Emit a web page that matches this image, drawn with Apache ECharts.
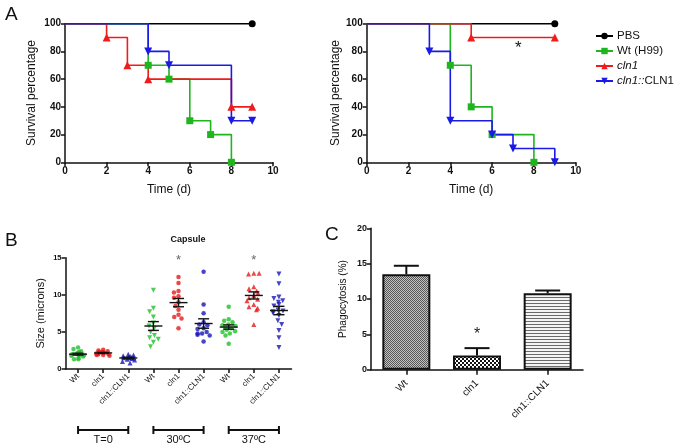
<!DOCTYPE html>
<html><head><meta charset="utf-8">
<script src="https://cdn.jsdelivr.net/npm/echarts@6/dist/echarts.min.js"></script>
<style>html,body{margin:0;padding:0;background:#fff}#c{width:675px;height:448px}</style>
</head><body><div id="c"></div>
<script>
const FONT = '"Liberation Sans", Arial, Helvetica, sans-serif';

// ---------- Panel A data (survival, %) ----------
const survNames = ['PBS', 'Wt (H99)', 'cln1', 'cln1::CLN1'];
const timeTicks = [0, 2, 4, 6, 8, 10];
const aLeftPbsT = [0, 9];            const aLeftPbsV = [100, 100];
const aLeftWtT = [0, 4, 5, 6, 7, 8]; const aLeftWtV = [100, 70, 60, 30, 20, 0];
const aLeftClnT = [0, 2, 3, 4, 8, 9]; const aLeftClnV = [100, 90, 70, 60, 40, 40];
const aLeftCompT = [0, 4, 5, 8, 9];  const aLeftCompV = [100, 80, 70, 30, 30];
const aRightPbsT = [0, 9];           const aRightPbsV = [100, 100];
const aRightWtT = [0, 4, 5, 6, 8];   const aRightWtV = [100, 70, 40, 20, 0];
const aRightClnT = [0, 5, 9];        const aRightClnV = [100, 90, 90];
const aRightCompT = [0, 3, 4, 6, 7, 9]; const aRightCompV = [100, 80, 30, 20, 10, 0];
const aStar = [7.25, 82];

// ---------- Panel B data (capsule size, microns) ----------
const capCategories = ['Wt', 'cln1', 'cln1::CLN1', 'Wt', 'cln1', 'cln1::CLN1', 'Wt', 'cln1', 'cln1::CLN1'];
const tempGroups = ['T=0', '30ºC', '37ºC'];
const capT0Wt = [2.9, 2.7, 2.4, 2.3, 2.2, 2.1, 2.0, 1.9, 1.9, 1.8, 1.7, 1.5, 1.3, 1.3];
const capT0Cln = [2.6, 2.5, 2.4, 2.3, 2.3, 2.2, 2.2, 2.1, 2.1, 2.0, 2.0, 1.9, 1.9, 1.8];
const capT0Comp = [2.0, 1.9, 1.8, 1.7, 1.6, 1.6, 1.5, 1.5, 1.4, 1.3, 1.2, 1.0, 0.8];
const cap30Wt = [10.6, 8.2, 7.7, 7.0, 6.2, 5.8, 5.5, 5.0, 4.5, 4.2, 4.0, 3.6, 3.0];
const cap30Cln = [12.4, 11.6, 10.5, 10.3, 9.8, 9.6, 9.0, 8.5, 8.0, 7.3, 7.0, 6.8, 5.5];
const cap30Comp = [13.1, 8.7, 7.5, 6.3, 6.0, 5.9, 5.5, 5.4, 5.0, 4.8, 4.8, 4.6, 4.5, 3.7];
const cap37Wt = [8.4, 6.7, 6.5, 6.3, 6.0, 5.9, 5.8, 5.6, 5.5, 5.3, 5.1, 5.0, 4.8, 4.5, 3.4];
const cap37Cln = [12.9, 12.9, 12.8, 11.1, 10.8, 10.5, 10.2, 9.9, 9.6, 9.4, 9.2, 8.7, 8.4, 8.2, 8.0, 6.0];
const cap37Comp = [12.8, 11.5, 9.7, 9.5, 9.2, 9.0, 8.7, 8.5, 8.0, 7.8, 7.7, 7.5, 7.2, 6.5, 6.0, 5.2, 4.2, 2.9];
const capStars = [[4, 14.6], [7, 14.6]];

// ---------- Panel C data (phagocytosis, %) ----------
const phagoCats = ['Wt', 'cln1', 'cln1::CLN1'];
const phagoMean = [13.5, 2.0, 10.8];
const phagoSem = [1.2, 1.05, 0.4];
const phagoStar = [1, 5.0];

// ---------- styles ----------
const cGreen = '#1fb51f', cRed = '#f01c1c', cBlue = '#1a1ae6';
const bGreen = '#22bf2c', bRed = '#e31b1b', bBlue = '#1717b8';

function pat(w, h, draw) {
  const c = document.createElement('canvas'); c.width = w; c.height = h;
  draw(c.getContext('2d')); return c;
}
const patWt = pat(2, 2, g => { g.fillStyle = '#c4c4c4'; g.fillRect(0, 0, 2, 2); g.fillStyle = '#555'; g.fillRect(0, 0, 1, 1); g.fillRect(1, 1, 1, 1); });
const patCln = pat(4, 4, g => { g.fillStyle = '#fff'; g.fillRect(0, 0, 4, 4); g.fillStyle = '#111'; g.fillRect(0, 0, 2, 2); g.fillRect(2, 2, 2, 2); });
const patComp = pat(4, 3, g => { g.fillStyle = '#f4f4f4'; g.fillRect(0, 0, 4, 3); g.fillStyle = '#6a6a6a'; g.fillRect(0, 0, 4, 1); });

function meanSem(a) {
  const n = a.length, m = a.reduce((s, v) => s + v, 0) / n;
  const sd = Math.sqrt(a.reduce((s, v) => s + (v - m) * (v - m), 0) / (n - 1));
  return [m, sd / Math.sqrt(n)];
}

const axLine = { lineStyle: { color: '#111', width: 1.5 } };
const axTick = { show: true, length: 4, lineStyle: { color: '#111', width: 1.5 } };
const tickLbl = (fs) => ({ color: '#111', fontFamily: FONT, fontWeight: 'bold', fontSize: fs, margin: 4 });

function survSeries(name, T, V, xi, color, symbol, rot, size) {
  return {
    type: 'line', name, xAxisIndex: xi, yAxisIndex: xi, step: 'end',
    symbol, symbolRotate: rot, symbolSize: size, clip: false,
    lineStyle: { color, width: 1.6 }, itemStyle: { color },
    data: T.map((t, i) => i === 0 ? { value: [t, V[i]], symbol: 'none' } : [t, V[i]]),
    z: 3
  };
}

const series = [];
[[aLeftPbsT, aLeftPbsV, aLeftWtT, aLeftWtV, aLeftClnT, aLeftClnV, aLeftCompT, aLeftCompV, 0],
 [aRightPbsT, aRightPbsV, aRightWtT, aRightWtV, aRightClnT, aRightClnV, aRightCompT, aRightCompV, 1]]
  .forEach(p => {
    const xi = p[8];
    series.push(survSeries(survNames[0], p[0], p[1], xi, '#000', 'circle', 0, 7));
    series.push(survSeries(survNames[1], p[2], p[3], xi, cGreen, 'rect', 0, 7));
    series.push(survSeries(survNames[2], p[4], p[5], xi, cRed, 'triangle', 0, 8));
    series.push(survSeries(survNames[3], p[6], p[7], xi, cBlue, 'triangle', 180, 8));
  });
// asterisk in A right
series.push({
  type: 'custom', xAxisIndex: 1, yAxisIndex: 1, data: [aStar], silent: true,
  renderItem: (params, api) => {
    const p = api.coord([api.value(0), api.value(1)]);
    return { type: 'text', style: { text: '*', x: p[0], y: p[1], align: 'center', verticalAlign: 'middle', textAlign: 'center', textVerticalAlign: 'middle', fontSize: 17, fontFamily: FONT, fill: '#111' } };
  }
});

// Panel B scatter
const capGroups = [capT0Wt, capT0Cln, capT0Comp, cap30Wt, cap30Cln, cap30Comp, cap37Wt, cap37Cln, cap37Comp];
const capColors = [bGreen, bRed, bBlue, bGreen, bRed, bBlue, bGreen, bRed, bBlue];
const capSymbols = ['circle', 'circle', 'triangle', 'triangle', 'circle', 'circle', 'circle', 'triangle', 'triangle'];
const capRot = [0, 0, 0, 180, 0, 0, 0, 0, 180];
capGroups.forEach((g, i) => {
  series.push({
    type: 'scatter', xAxisIndex: 2, yAxisIndex: 2,
    symbol: capSymbols[i], symbolRotate: capRot[i], symbolSize: capSymbols[i] === 'circle' ? 4.5 : 5,
    itemStyle: { color: capColors[i] }, data: g.map(v => [i, v]), z: 2
  });
});
series.push({
  type: 'custom', xAxisIndex: 2, yAxisIndex: 2, z: 5, silent: true,
  data: capGroups.map((g, i) => { const [m, s] = meanSem(g); return [i, m, m - s, m + s]; }),
  renderItem: (params, api) => {
    const x = api.value(0);
    const pm = api.coord([x, api.value(1)]), pl = api.coord([x, api.value(2)]), ph = api.coord([x, api.value(3)]);
    const st = { stroke: '#111', lineWidth: 1.4 };
    return { type: 'group', children: [
      { type: 'line', shape: { x1: pm[0] - 9, y1: pm[1], x2: pm[0] + 9, y2: pm[1] }, style: st },
      { type: 'line', shape: { x1: pl[0], y1: pl[1], x2: ph[0], y2: ph[1] }, style: st },
      { type: 'line', shape: { x1: pl[0] - 5.5, y1: pl[1], x2: pl[0] + 5.5, y2: pl[1] }, style: st },
      { type: 'line', shape: { x1: ph[0] - 5.5, y1: ph[1], x2: ph[0] + 5.5, y2: ph[1] }, style: st }
    ] };
  }
});
series.push({
  type: 'custom', xAxisIndex: 2, yAxisIndex: 2, data: capStars, silent: true,
  renderItem: (params, api) => {
    const p = api.coord([api.value(0), api.value(1)]);
    return { type: 'text', style: { text: '*', x: p[0], y: p[1], align: 'center', verticalAlign: 'middle', textAlign: 'center', textVerticalAlign: 'middle', fontSize: 13, fontFamily: FONT, fill: '#666' } };
  }
});
// brackets under B
series.push({
  type: 'custom', xAxisIndex: 4, yAxisIndex: 4, silent: true,
  data: tempGroups.map((t, i) => [i * 3, i * 3 + 2, 0.5]),
  renderItem: (params, api) => {
    const a = api.coord([api.value(0), api.value(2)]), b = api.coord([api.value(1), api.value(2)]);
    const st = { stroke: '#111', lineWidth: 2 };
    const label = tempGroups[params.dataIndex];
    return { type: 'group', children: [
      { type: 'line', shape: { x1: a[0], y1: a[1], x2: b[0], y2: b[1] }, style: st },
      { type: 'line', shape: { x1: a[0], y1: a[1] - 4, x2: a[0], y2: a[1] + 4 }, style: st },
      { type: 'line', shape: { x1: b[0], y1: b[1] - 4, x2: b[0], y2: b[1] + 4 }, style: st },
      { type: 'text', style: { text: label, x: (a[0] + b[0]) / 2, y: a[1] + 4, align: 'center', verticalAlign: 'top', textAlign: 'center', textVerticalAlign: 'top', fontSize: 11, fontFamily: FONT, fill: '#111' } }
    ] };
  }
});

// Panel C bars
const pats = [patWt, patCln, patComp];
series.push({
  type: 'bar', xAxisIndex: 3, yAxisIndex: 3, barWidth: 48, z: 2,
  data: phagoMean.map((v, i) => ({ value: v, itemStyle: { color: { image: pats[i], repeat: 'repeat' }, borderColor: '#111', borderWidth: 2 } }))
});
series.push({
  type: 'custom', xAxisIndex: 3, yAxisIndex: 3, z: 4, silent: true,
  data: phagoMean.map((v, i) => [i, v, v + phagoSem[i]]),
  renderItem: (params, api) => {
    const pm = api.coord([api.value(0), api.value(1)]), ph = api.coord([api.value(0), api.value(2)]);
    const st = { stroke: '#111', lineWidth: 2 };
    return { type: 'group', children: [
      { type: 'line', shape: { x1: pm[0], y1: pm[1], x2: ph[0], y2: ph[1] }, style: st },
      { type: 'line', shape: { x1: ph[0] - 12.5, y1: ph[1], x2: ph[0] + 12.5, y2: ph[1] }, style: st }
    ] };
  }
});
series.push({
  type: 'custom', xAxisIndex: 3, yAxisIndex: 3, data: [phagoStar], silent: true,
  renderItem: (params, api) => {
    const p = api.coord([api.value(0), api.value(1)]);
    return { type: 'text', style: { text: '*', x: p[0], y: p[1], align: 'center', verticalAlign: 'middle', textAlign: 'center', textVerticalAlign: 'middle', fontSize: 16, fontFamily: FONT, fill: '#222' } };
  }
});

const survX = (gi) => ({
  type: 'value', gridIndex: gi, min: timeTicks[0], max: timeTicks[timeTicks.length - 1], interval: 2,
  name: 'Time (d)', nameLocation: 'middle', nameGap: 21,
  nameTextStyle: { fontSize: 12, fontFamily: FONT, color: '#111' },
  axisLine: axLine, axisTick: axTick, axisLabel: tickLbl(10), splitLine: { show: false }
});
const survY = (gi, gap) => ({
  type: 'value', gridIndex: gi, min: 0, max: 100, interval: 20,
  name: 'Survival percentage', nameLocation: 'middle', nameGap: gap,
  nameTextStyle: { fontSize: 12, fontFamily: FONT, color: '#111' },
  axisLine: { show: true, ...axLine }, axisTick: axTick, axisLabel: tickLbl(10), splitLine: { show: false }
});

const option = {
  animation: false,
  backgroundColor: '#fff',
  title: { text: 'Capsule', left: 183, top: 230, textAlign: 'center', textStyle: { fontSize: 9, fontWeight: 'bold', fontFamily: FONT, color: '#111' } },
  graphic: [
    { type: 'text', left: 5, top: 5, style: { text: 'A', fontSize: 19, fontFamily: FONT, fill: '#111' } },
    { type: 'text', left: 5, top: 231, style: { text: 'B', fontSize: 19, fontFamily: FONT, fill: '#111' } },
    { type: 'text', left: 325, top: 225, style: { text: 'C', fontSize: 19, fontFamily: FONT, fill: '#111' } }
  ],
  legend: {
    data: survNames, orient: 'vertical', left: 590, top: 25, selectedMode: false,
    itemWidth: 17, itemHeight: 8, itemGap: 3,
    textStyle: { fontSize: 11.5, fontFamily: FONT, color: '#111', padding: [0, 0, 0, -1], rich: { i: { fontStyle: 'italic', fontSize: 11.5, fontFamily: FONT, color: '#111' } } },
    formatter: n => n === 'cln1' ? '{i|cln1}' : (n === 'cln1::CLN1' ? '{i|cln1::}CLN1' : n)
  },
  grid: [
    { left: 65, top: 23.7, width: 208, height: 138.6 },
    { left: 366.7, top: 23.7, width: 209, height: 138.6 },
    { left: 65.5, top: 257.7, width: 226, height: 111.3 },
    { left: 371, top: 228.3, width: 212, height: 141.4 },
    { left: 65.5, top: 425, width: 226, height: 10 }
  ],
  xAxis: [
    survX(0), survX(1),
    { type: 'category', gridIndex: 2, data: capCategories, jitter: 14, jitterOverlap: false, jitterMargin: 0.3,
      axisLine: axLine, axisTick: { alignWithLabel: true, ...axTick },
      axisLabel: { color: '#111', fontFamily: FONT, fontSize: 8, rotate: 45, margin: 6, interval: 0 } },
    { type: 'category', gridIndex: 3, data: phagoCats,
      axisLine: axLine, axisTick: { alignWithLabel: true, ...axTick, length: 5 },
      axisLabel: { color: '#111', fontFamily: FONT, fontSize: 10, rotate: 45, margin: 12, interval: 0 } },
    { type: 'value', gridIndex: 4, min: -0.5, max: 8.5, show: false }
  ],
  yAxis: [
    survY(0, 27), survY(1, 25),
    { type: 'value', gridIndex: 2, min: 0, max: 15, interval: 5,
      name: 'Size (microns)', nameLocation: 'middle', nameGap: 19,
      nameTextStyle: { fontSize: 11, fontFamily: FONT, color: '#111' },
      axisLine: { show: true, ...axLine }, axisTick: axTick, axisLabel: tickLbl(7.5), splitLine: { show: false } },
    { type: 'value', gridIndex: 3, min: 0, max: 20, interval: 5,
      name: 'Phagocytosis (%)', nameLocation: 'middle', nameGap: 23,
      nameTextStyle: { fontSize: 10, fontFamily: FONT, color: '#111' },
      axisLine: { show: true, ...axLine }, axisTick: axTick, axisLabel: tickLbl(9), splitLine: { show: false } },
    { type: 'value', gridIndex: 4, min: 0, max: 1, show: false }
  ],
  series
};
const chart = echarts.init(document.getElementById('c'), null, { renderer: 'canvas' });
chart.setOption(option);
</script>
</body></html>
